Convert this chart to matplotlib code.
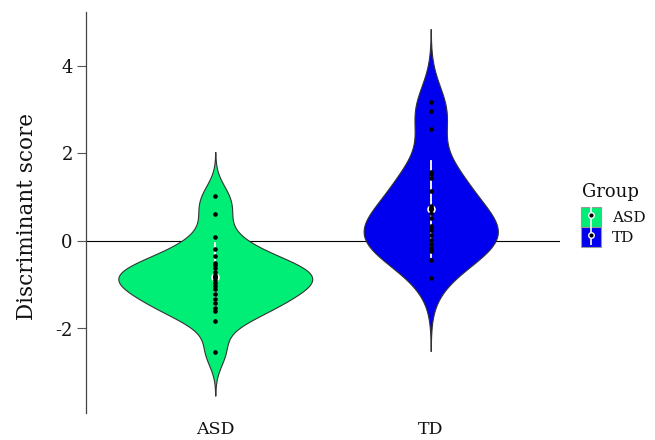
import numpy as np
import matplotlib
matplotlib.use("Agg")
import matplotlib.pyplot as plt
from matplotlib.patches import Patch
from matplotlib.lines import Line2D
from matplotlib.legend_handler import HandlerTuple

groups = ["ASD", "TD"]
asd_scores = [1.03, 0.62, 0.08, -0.18, -0.34, -0.51, -0.56, -0.62, -0.70, -0.78, -0.83,
              -0.89, -0.95, -1.02, -1.10, -1.21, -1.32, -1.42, -1.54, -1.61, -1.84, -2.53]
td_scores = [3.18, 2.97, 2.57, 1.57, 1.53, 1.43, 1.15, 0.81, 0.75, 0.65, 0.52, 0.34,
             0.29, 0.24, 0.14, 0.02, -0.07, -0.17, -0.21, -0.24, -0.43, -0.85]
bandwidths = [0.335, 0.555]
fill_colors = ["#00EE76", "#0000EE"]
y_ticks = [-2, 0, 2, 4]

plt.rcParams["font.family"] = ["DejaVu Serif"]
TEXT = "#111111"


def kde(x, bw, n=512):
    """Gaussian density evaluated out to 3 bandwidths beyond the data."""
    x = np.asarray(x)
    grid = np.linspace(x.min() - 3 * bw, x.max() + 3 * bw, n)
    d = np.exp(-0.5 * ((grid[:, None] - x[None, :]) / bw) ** 2).sum(axis=1)
    d /= len(x) * bw * np.sqrt(2 * np.pi)
    return grid, d


data = [asd_scores, td_scores]
dens = [kde(v, bw) for v, bw in zip(data, bandwidths)]
dmax = max(d.max() for _, d in dens)  # violins share one area scale

fig = plt.figure(figsize=(6.55, 4.40), dpi=100)
ax = fig.add_axes([86 / 655, 1 - 413 / 440, (560 - 86) / 655, (413 - 12) / 440])

ax.axhline(0, color="black", lw=0.8, zorder=1)

for i, (vals, (grid, d), col) in enumerate(zip(data, dens, fill_colors)):
    pos = i + 1
    half = 0.45 * d / dmax
    ax.fill_betweenx(grid, pos - half, pos + half, facecolor=col,
                     edgecolor="#333333", lw=0.8, zorder=2)
    m = np.mean(vals)
    s = np.std(vals, ddof=1)
    ax.plot([pos, pos], [m - s, m + s], color="white", lw=1.3, zorder=3)
    ax.plot([pos], [m], marker="o", ms=5, mfc="black", mec="white", mew=1.2,
            zorder=3, ls="none")
    ax.plot(np.full(len(vals), pos), vals, "o", ms=2.3, color="black", zorder=4)

ax.set_xlim(0.4, 2.6)
ax.set_ylim(-(413 - 241) / 43.75, (241 - 12) / 43.75)
ax.set_xticks([1, 2])
ax.set_xticklabels(groups, fontsize=12.5, color=TEXT)
ax.set_yticks(y_ticks)
ax.set_yticklabels([str(t) for t in y_ticks], fontsize=13, color=TEXT)
ax.tick_params(axis="x", length=0, pad=6)
ax.tick_params(axis="y", length=6.5, width=0.8, color="#555555", pad=3)
for side in ["top", "right", "bottom"]:
    ax.spines[side].set_visible(False)
ax.spines["left"].set_color("#444444")
ax.spines["left"].set_linewidth(0.9)
ax.set_ylabel("Discriminant score", fontsize=15.5, color=TEXT)
ax.yaxis.set_label_coords(-0.102, 0.49)

# legend: title placed separately so the keys sit a little below it
fig.text(582 / 655, 1 - 197 / 440, "Group", fontsize=13, color=TEXT,
         ha="left", va="baseline")
handles = []
for col in fill_colors:
    handles.append((Patch(facecolor=col, edgecolor="#999999", lw=0.8),
                    Line2D([], [], marker="|", ms=14.4, mew=1.2, color="white", ls="none"),
                    Line2D([], [], marker="o", ms=4, mfc="black", mec="white",
                           mew=1.0, ls="none")))
leg = fig.legend(handles, groups, handler_map={tuple: HandlerTuple(ndivide=1, pad=0)},
                 loc="upper left", bbox_to_anchor=(581 / 655, 1 - 207 / 440),
                 frameon=False, fontsize=11,
                 handlelength=1.31, handleheight=1.64, labelspacing=0,
                 handletextpad=0.74, borderaxespad=0, borderpad=0)
for t in leg.get_texts():
    t.set_color(TEXT)

fig.savefig("out.png", dpi=100)
